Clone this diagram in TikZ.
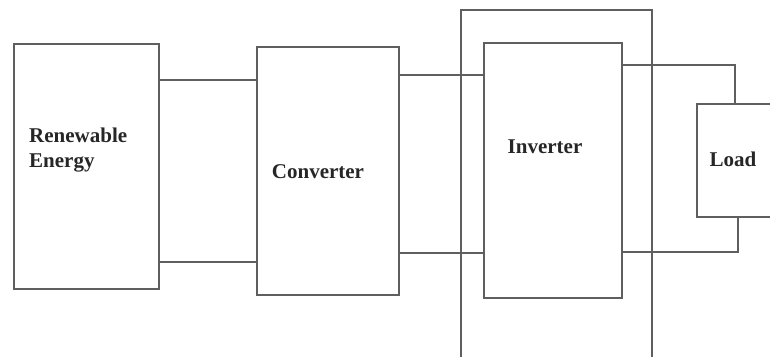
\documentclass[tikz,border=0pt]{standalone}
\usepackage{fontspec}
\setmainfont{Liberation Serif}
\usetikzlibrary{positioning}
\definecolor{linegray}{RGB}{95,95,95}
\tikzstyle{block}=[draw=linegray, line width=1.4pt, rectangle, inner sep=0pt]
\tikzstyle{blocktext}=[inner sep=0pt, font=\fontsize{21}{25}\selectfont\bfseries, text=black!85]
\tikzstyle{wire}=[draw=linegray, line width=1.4pt]

\begin{document}
\begin{tikzpicture}[x=1pt, y=-1pt]
\useasboundingbox (0,0) rectangle (770,356);

\node[block, minimum width=145pt, minimum height=245pt] (re) at (86.5,166.5) {};
\node[block, minimum width=142pt, minimum height=248pt] (conv) at (328,171) {};
\node[block, minimum width=191pt, minimum height=370pt] (frame) at (556.5,195) {};
\node[block, minimum width=138pt, minimum height=255pt] (inv) at (553,170.5) {};
\node[block, minimum width=93pt, minimum height=113pt] (load) at (743.5,160.5) {};

\node[blocktext, anchor=west, align=left] (retext) at (29,150) {Renewable\\Energy};
\node[blocktext] (convtext) at (318,172) {Converter};
\node[blocktext] (invtext) at (545,147) {Inverter};
\node[blocktext] (loadtext) at (733,159) {Load};

\begin{scope}[wire]
    \draw ([yshift=86.5pt]re.east) -- ([yshift=91pt]conv.west);
    \draw ([yshift=-95.5pt]re.east) -- ([yshift=-91pt]conv.west);

    \draw ([yshift=96pt]conv.east) -- ([yshift=95.5pt]inv.west);
    \draw ([yshift=-82pt]conv.east) -- ([yshift=-82.5pt]inv.west);

    \draw ([yshift=105.5pt]inv.east) -| ([xshift=-8.5pt]load.north);
    \draw ([yshift=-81.5pt]inv.east) -| ([xshift=-5.5pt]load.south);
\end{scope}

\end{tikzpicture}
\end{document}
